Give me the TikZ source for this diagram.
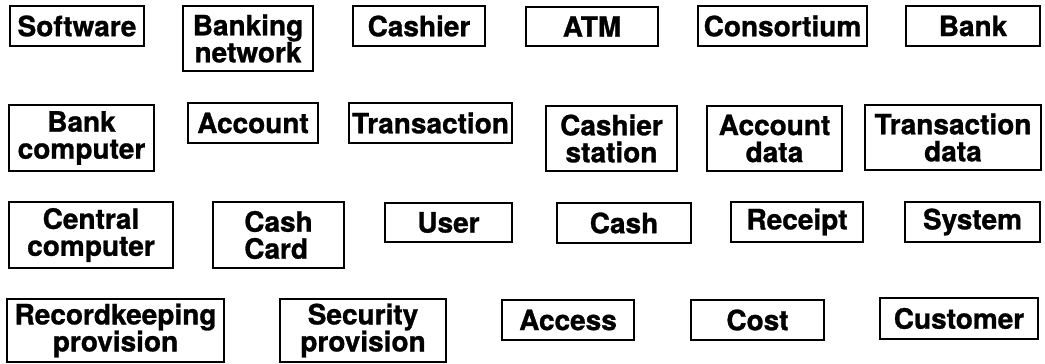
\documentclass[tikz,border=0pt]{standalone}
\usepackage{fontspec}
\setmainfont{TeX Gyre Heros}[BoldFeatures={FakeBold=1}]
\usepackage{tikz}
\tikzset{
  cbox/.style={
    draw,
    align=center,
    inner sep=0pt,
    font=\fontsize{28}{27}\selectfont\bfseries,
    line width=1.8pt
  }
}

\begin{document}
\begin{tikzpicture}[x=1pt, y=-1pt]
\useasboundingbox (0,0) rectangle (1045,364);
% row 1
\node[cbox, minimum width=134pt, minimum height=40pt] (software) at (77,26) {Software};
\node[cbox, minimum width=130pt, minimum height=65pt] (banknet) at (248,38.5) {Banking\\network};
\node[cbox, minimum width=132pt, minimum height=40pt] (cashier) at (419,26) {Cashier};
\node[cbox, minimum width=132pt, minimum height=39pt] (atm) at (592,26.5) {ATM};
\node[cbox, minimum width=169pt, minimum height=40pt] (consortium) at (782.5,26) {Consortium};
\node[cbox, minimum width=134pt, minimum height=40pt] (bank) at (973,26) {Bank};
% row 2
\node[cbox, minimum width=145pt, minimum height=66pt] (bankcomp) at (81.5,138) {Bank\\computer};
\node[cbox, minimum width=130pt, minimum height=40pt] (account) at (253,123) {Account};
\node[cbox, minimum width=163pt, minimum height=40pt] (transaction) at (430.5,123) {Transaction};
\node[cbox, minimum width=131pt, minimum height=65pt] (cashstation) at (611.5,138.5) {Cashier\\station};
\node[cbox, minimum width=135pt, minimum height=65pt] (accdata) at (774.5,138.5) {Account\\data};
\node[cbox, minimum width=176pt, minimum height=65pt] (transdata) at (953,137.5) {Transaction\\data};
% row 3
\node[cbox, minimum width=164pt, minimum height=66pt] (centralcomp) at (91,235) {Central\\computer};
\node[cbox, minimum width=131pt, minimum height=66pt, align=left] (cashcard) at (278.5,235) {Cash\\Card};
\node[cbox, minimum width=127pt, minimum height=39pt] (user) at (448.5,222.5) {User};
\node[cbox, minimum width=134pt, minimum height=40pt] (cash) at (624,223) {Cash};
\node[cbox, minimum width=132pt, minimum height=40pt] (receipt) at (797,222) {Receipt};
\node[cbox, minimum width=135pt, minimum height=40pt] (system) at (972.5,222) {System};
% row 4
\node[cbox, minimum width=217pt, minimum height=63pt] (recordprov) at (115.5,330.5) {Recordkeeping\\provision};
\node[cbox, minimum width=166pt, minimum height=63pt] (secprov) at (363,330.5) {Security\\provision};
\node[cbox, minimum width=132pt, minimum height=40pt] (access) at (568,320) {Access};
\node[cbox, minimum width=133pt, minimum height=40pt] (cost) at (757.5,320) {Cost};
\node[cbox, minimum width=158pt, minimum height=41pt] (customer) at (959,318.5) {Customer};
\end{tikzpicture}
\end{document}
